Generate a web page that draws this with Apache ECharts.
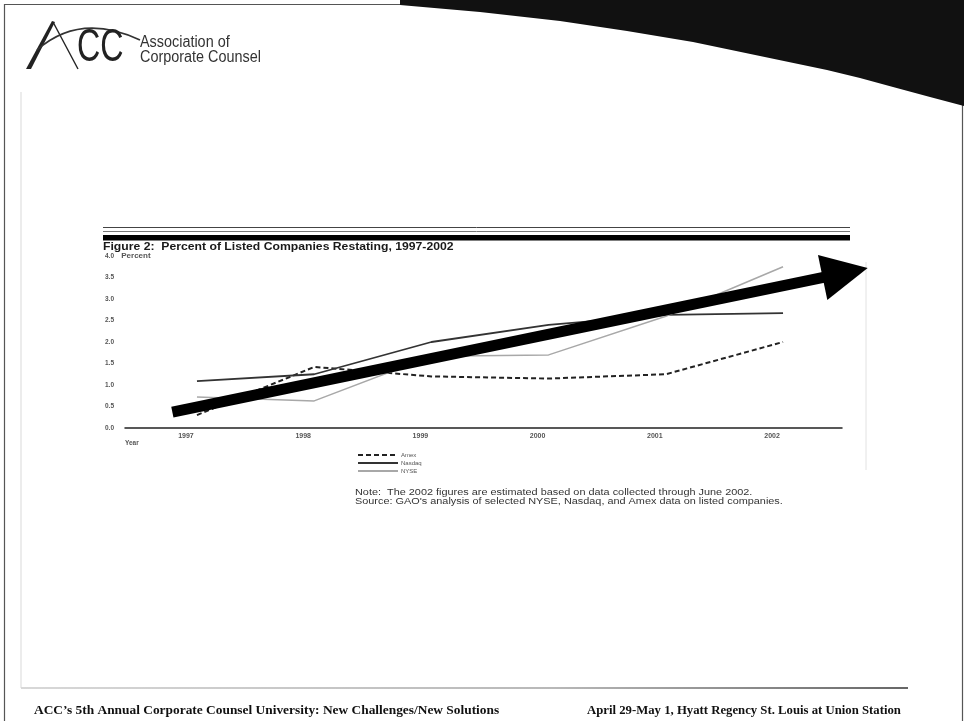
<!DOCTYPE html>
<html>
<head>
<meta charset="utf-8">
<title>Percent of Listed Companies Restating, 1997-2002</title>
<script src="https://cdn.jsdelivr.net/npm/echarts@6/dist/echarts.min.js"></script>
<style>
  html, body { margin: 0; padding: 0; background: #fff; }
  #chart { width: 964px; height: 721px; }
</style>
</head>
<body>
<div id="chart"></div>
<script>
// Restatement rates by exchange (percent of listed companies)
const years = [1997, 1998, 1999, 2000, 2001, 2002];
const amex = [0.30, 1.42, 1.20, 1.15, 1.25, 2.00];
const nasdaq = [1.09, 1.25, 2.00, 2.40, 2.63, 2.67];
const nyse = [0.72, 0.63, 1.67, 1.70, 2.60, 3.75];
const seriesNames = ['Amex', 'Nasdaq', 'NYSE'];

// Overall upward trend, drawn as a heavy arrow in data space
const trendStart = [1996.79, 0.37];
const trendEnd = [2002.53, 3.61];

const pairs = arr => years.map((y, i) => [y, arr[i]]);

const chart = echarts.init(document.getElementById('chart'), null, { renderer: 'canvas' });

const sans = 'Liberation Sans, Arial, sans-serif';
const serif = 'Liberation Serif, Times New Roman, serif';

// Lower edge of the black band in the top-right corner of the slide
const bandEdge = [[400, 5], [480, 12], [560, 21], [627, 31], [693, 42], [760, 56], [827, 70], [860, 78], [893, 87], [930, 97], [964, 106]];

const option = {
  animation: false,
  backgroundColor: '#ffffff',
  legend: {
    data: seriesNames,
    orient: 'vertical',
    left: 357,
    top: 452,
    padding: 0,
    itemWidth: 40,
    itemHeight: 6,
    itemGap: 2,
    selectedMode: false,
    itemStyle: { opacity: 0 },
    textStyle: { fontFamily: sans, fontSize: 6, color: '#555', padding: [0, 0, 0, -2] }
  },
  grid: { left: 125, right: 122, top: 256, bottom: 293, containLabel: false },
  xAxis: {
    type: 'value',
    min: 1996.386,
    max: 2002.503,
    splitLine: { show: false },
    axisTick: { show: false },
    axisLine: { show: true, lineStyle: { color: '#222', width: 1.5 } },
    axisLabel: {
      customValues: years,
      formatter: v => String(v),
      margin: 5,
      padding: [0, 22, 0, 0],
      fontFamily: sans,
      fontSize: 7,
      fontWeight: 'bold',
      color: '#555'
    }
  },
  yAxis: {
    type: 'value',
    min: 0,
    max: 4,
    interval: 0.5,
    splitLine: { show: false },
    axisTick: { show: false },
    axisLine: { show: false },
    axisLabel: {
      margin: 20,
      align: 'left',
      formatter: v => (v === 4 ? '4.0    {p|Percent}' : v.toFixed(1)),
      fontFamily: sans,
      fontSize: 6.5,
      fontWeight: 'bold',
      color: '#555',
      rich: { p: { fontFamily: sans, fontSize: 8, fontWeight: 'bold', color: '#555' } }
    }
  },
  series: [
    {
      name: 'Amex', type: 'line', data: pairs(amex), symbol: 'none',
      itemStyle: { color: '#222' },
      lineStyle: { color: '#222', width: 2, type: [5, 3] }, silent: true
    },
    {
      name: 'Nasdaq', type: 'line', data: pairs(nasdaq), symbol: 'none',
      itemStyle: { color: '#333' },
      lineStyle: { color: '#333', width: 1.8 }, silent: true
    },
    {
      name: 'NYSE', type: 'line', data: pairs(nyse), symbol: 'none',
      itemStyle: { color: '#a8a8a8' },
      lineStyle: { color: '#a8a8a8', width: 1.5 }, silent: true
    },
    {
      name: 'trend', type: 'lines', coordinateSystem: 'cartesian2d',
      clip: false, silent: true, z: 5,
      symbol: ['none', 'triangle'],
      symbolSize: [46, 46],
      lineStyle: { color: '#000', width: 11, opacity: 1, curveness: 0 },
      data: [{ coords: [trendStart, trendEnd] }]
    }
  ],
  graphic: [
    // slide frame
    { type: 'rect', shape: { x: 4.5, y: 4.5, width: 958, height: 720 }, style: { fill: 'none', stroke: '#555', lineWidth: 1.2 }, silent: true },
    // black band, top right
    { type: 'polygon', shape: { points: [[400, 0], [964, 0]].concat(bandEdge.slice().reverse()) }, style: { fill: '#111' }, silent: true },
    // scanned page edges
    { type: 'line', shape: { x1: 21, y1: 92, x2: 21, y2: 688 }, style: { stroke: '#e6e6e6', lineWidth: 1.5 }, silent: true },
    { type: 'line', shape: { x1: 866, y1: 262, x2: 866, y2: 470 }, style: { stroke: '#e2e2e2', lineWidth: 1 }, silent: true },
    {
      type: 'line', shape: { x1: 21, y1: 688, x2: 908, y2: 688 },
      style: {
        lineWidth: 2,
        stroke: new echarts.graphic.LinearGradient(0, 0, 1, 0, [
          { offset: 0, color: '#d8d8d8' }, { offset: 0.6, color: '#b8b8b8' }, { offset: 1, color: '#666' }
        ])
      },
      silent: true
    },
    // rules above the figure title
    { type: 'line', shape: { x1: 103, y1: 227.5, x2: 850, y2: 227.5 }, style: { stroke: '#444', lineWidth: 1 }, silent: true },
    { type: 'line', shape: { x1: 103, y1: 231.5, x2: 850, y2: 231.5 }, style: { stroke: '#777', lineWidth: 1 }, silent: true },
    { type: 'rect', shape: { x: 103, y: 235, width: 747, height: 5.5 }, style: { fill: '#000' }, silent: true },
    // figure title
    { type: 'text', x: 103, y: 247.5, scaleX: 1.22, style: { text: 'Figure 2:  Percent of Listed Companies Restating, 1997-2002', font: 'bold 10px ' + sans, fill: '#1a1a1a', verticalAlign: 'middle' }, silent: true },
    // axis caption
    { type: 'text', x: 125, y: 443, style: { text: 'Year', font: 'bold 6.5px ' + sans, fill: '#555', verticalAlign: 'middle' }, silent: true },
    // note and source
    { type: 'text', x: 355, y: 492.5, scaleX: 1.28, style: { text: 'Note:  The 2002 figures are estimated based on data collected through June 2002.', font: '8.5px ' + sans, fill: '#333', verticalAlign: 'middle' }, silent: true },
    { type: 'text', x: 355, y: 502, scaleX: 1.28, style: { text: "Source: GAO's analysis of selected NYSE, Nasdaq, and Amex data on listed companies.", font: '8.5px ' + sans, fill: '#333', verticalAlign: 'middle' }, silent: true },
    // organisation logo
    { type: 'polygon', shape: { points: [[26, 69], [31, 69], [55, 22], [52, 21]] }, style: { fill: '#222' }, silent: true },
    { type: 'line', shape: { x1: 53, y1: 22, x2: 78, y2: 69 }, style: { stroke: '#222', lineWidth: 1.4 }, silent: true },
    { type: 'bezierCurve', shape: { x1: 37, y1: 50, cpx1: 80, cpy1: 12, x2: 140, y2: 40 }, style: { stroke: '#333', lineWidth: 1.6, fill: 'none' }, silent: true },
    { type: 'text', x: 77, y: 48, scaleX: 0.7, style: { text: 'CC', font: '46px ' + sans, fill: '#222', verticalAlign: 'middle' }, silent: true },
    { type: 'text', x: 140, y: 43, scaleX: 0.9, style: { text: 'Association of', font: '16px ' + sans, fill: '#333', verticalAlign: 'middle' }, silent: true },
    { type: 'text', x: 140, y: 58, scaleX: 0.9, style: { text: 'Corporate Counsel', font: '16px ' + sans, fill: '#333', verticalAlign: 'middle' }, silent: true },
    // footer
    { type: 'text', x: 34, y: 711, scaleX: 1.03, style: { text: "ACC\u2019s 5th Annual Corporate Counsel University: New Challenges/New Solutions", font: 'bold 13px ' + serif, fill: '#111', verticalAlign: 'middle' }, silent: true },
    { type: 'text', x: 587, y: 711, scaleX: 0.98, style: { text: 'April 29-May 1, Hyatt Regency St. Louis at Union Station', font: 'bold 13px ' + serif, fill: '#111', verticalAlign: 'middle' }, silent: true }
  ]
};

chart.setOption(option);
</script>
</body>
</html>
